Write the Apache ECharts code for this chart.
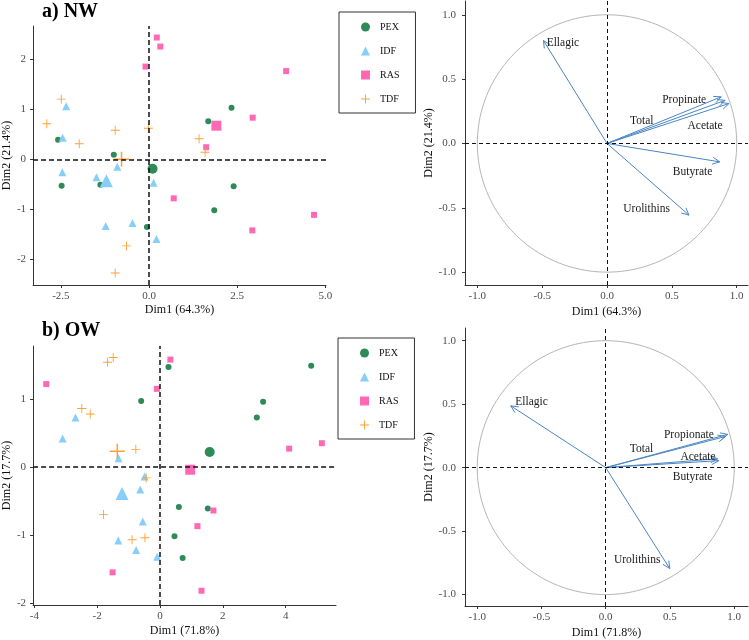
<!DOCTYPE html>
<html>
<head>
<meta charset="utf-8">
<script src="https://cdn.jsdelivr.net/npm/echarts@6/dist/echarts.min.js"></script>
<style>html,body{margin:0;padding:0;background:#fff;}#chart{width:749px;height:640px;}</style>
</head>
<body>
<div id="chart"></div>
<script>
// ---------- DATA ----------
const groups = ['PEX', 'IDF', 'RAS', 'TDF'];

// a) NW individuals (Dim1, Dim2)
const nwPEX = [[2.34,1.03],[1.68,0.76],[-2.58,0.39],[-1.0,0.09],[-1.38,-0.51],[-2.48,-0.53],[2.40,-0.54],[1.85,-1.02],[-0.06,-1.35]];
const nwIDF = [[-2.35,1.06],[-2.45,0.43],[-2.46,-0.26],[-1.49,-0.36],[-0.90,-0.15],[0.13,-0.47],[-1.23,-1.33],[-0.47,-1.27],[0.21,-1.59]];
const nwRAS = [[0.22,2.43],[0.32,2.25],[-0.10,1.85],[3.89,1.76],[2.94,0.83],[1.62,0.24],[0.70,-0.78],[4.68,-1.11],[2.93,-1.42]];
const nwTDF = [[-2.49,1.20],[-2.90,0.71],[-1.98,0.31],[-0.96,0.58],[-0.02,0.62],[1.42,0.41],[1.59,0.14],[-0.64,-1.73],[-0.96,-2.27]];
const nwCentroids = [[0.10,-0.19],[-1.21,-0.43],[1.91,0.67],[-0.78,0.0]]; // PEX, IDF, RAS, TDF

// b) OW individuals
const owPEX = [[0.27,1.47],[-0.60,0.97],[4.81,1.49],[3.28,0.96],[3.08,0.73],[0.60,-0.59],[1.52,-0.61],[0.46,-1.02],[0.72,-1.34]];
const owIDF = [[-2.69,0.73],[-3.10,0.42],[-1.32,0.13],[-0.49,-0.14],[-0.63,-0.33],[-0.55,-0.80],[-1.33,-1.08],[-0.76,-1.22],[-0.09,-1.32]];
const owRAS = [[-3.62,1.22],[0.33,1.58],[-0.10,1.15],[4.11,0.27],[5.15,0.35],[1.70,-0.64],[1.19,-0.87],[-1.51,-1.55],[1.32,-1.82]];
const owTDF = [[-1.67,1.54],[-1.49,1.61],[-2.49,0.86],[-2.22,0.78],[-0.77,0.26],[-0.44,-0.16],[-1.80,-0.70],[-0.48,-1.04],[-0.89,-1.07]];
const owCentroids = [[1.58,0.22],[-1.21,-0.39],[0.96,-0.04],[-1.36,0.23]];

// variable loadings (correlation circles)
const nwVars  = ['Ellagic','Propinate','Total','Acetate','Butyrate','Urolithins'];
const nwLoadX = [-0.49, 0.88, 0.91, 0.94, 0.869, 0.632];
const nwLoadY = [0.80, 0.362, 0.335, 0.31, -0.143, -0.557];
const nwLabelX = [-0.34, 0.595, 0.268, 0.756, 0.66, 0.305];
const nwLabelY = [0.777, 0.336, 0.173, 0.137, -0.22, -0.513];

const owVars  = ['Ellagic','Propionate','Total','Acetate','Butyrate','Urolithins'];
const owLoadX = [-0.739, 0.95, 0.93, 0.87, 0.88, 0.498];
const owLoadY = [0.487, 0.262, 0.245, 0.07, 0.055, -0.795];
const owLabelX = [-0.577, 0.647, 0.278, 0.718, 0.676, 0.245];
const owLabelY = [0.515, 0.258, 0.147, 0.087, -0.077, -0.729];

const nwXTicks = [-2.5, 0, 2.5, 5];
const nwYTicks = [-2, -1, 0, 1, 2];
const owXTicks = [-4, -2, 0, 2, 4];
const owYTicks = [-2, -1, 0, 1];
const circTicks = [-1, -0.5, 0, 0.5, 1];

// ---------- STYLE ----------
const FONT = '"Liberation Serif", "DejaVu Serif", serif';
const colors = {PEX:'#2E8B57', IDF:'#87CEFA', RAS:'#FF69B4', TDF:'#FFA033'};
const plusPath = 'path://M9,0H11V20H9ZM0,9H20V11H0Z';
const symbols = {PEX:'circle', IDF:'triangle', RAS:'rect', TDF:plusPath};
const smallSize = {PEX:6, IDF:8, RAS:6, TDF:9};
const bigSize = {PEX:10, IDF:13, RAS:10, TDF:15};
const arrowColor = '#4A86C4';

function mkAxis(gi, min, max, ticks, fmt, isX, nm, gap) {
  return {
    type: 'value', gridIndex: gi, min: min, max: max,
    name: nm, nameLocation: 'middle', nameGap: gap,
    nameTextStyle: {fontFamily: FONT, fontSize: 12, color: '#111'},
    axisLine: {show: true, onZero: false, lineStyle: {color: '#333', width: 1}},
    axisTick: {show: true, length: 3, customValues: ticks, lineStyle: {color: '#333'}},
    axisLabel: {customValues: ticks, formatter: fmt, fontFamily: FONT, fontSize: 11, color: '#4D4D4D', margin: isX ? 6 : 7},
    splitLine: {show: false}
  };
}
const f1 = v => Number(v).toFixed(1);
const f0 = v => String(Math.round(v));

const grids = [
  {left: 29, top: 26, width: 297, height: 259},
  {left: 30, top: 346, width: 306, height: 259},
  {left: 465, top: 1, width: 283, height: 284},
  {left: 465, top: 328, width: 283, height: 278}
];

const xAxes = [
  mkAxis(0, -3.29, 5.02, nwXTicks, f1, true, 'Dim1 (64.3%)', 19),
  mkAxis(1, -4.04, 5.6, owXTicks, f0, true, 'Dim1 (71.8%)', 20),
  mkAxis(2, -1.095, 1.087, circTicks, f1, true, 'Dim1 (64.3%)', 21),
  mkAxis(3, -1.095, 1.107, circTicks, f1, true, 'Dim1 (71.8%)', 21)
];
const yAxes = [
  mkAxis(0, -2.51, 2.66, nwYTicks, f0, false, 'Dim2 (21.4%)', 16),
  mkAxis(1, -2.03, 1.78, owYTicks, f0, false, 'Dim2 (17.7%)', 16),
  mkAxis(2, -1.10, 1.107, circTicks, f1, false, 'Dim2 (21.4%)', 22),
  mkAxis(3, -1.09, 1.10, circTicks, f1, false, 'Dim2 (17.7%)', 22)
];
xAxes[2].axisLabel.margin = 6; xAxes[3].axisLabel.margin = 6;
yAxes[2].axisLabel.margin = 9; yAxes[3].axisLabel.margin = 9;

function zeroLines(width, dash) {
  return {
    silent: true, symbol: ['none', 'none'], label: {show: false},
    lineStyle: {color: '#111', width: width, type: dash},
    emphasis: {disabled: true},
    data: [{xAxis: 0}, {yAxis: 0}]
  };
}

const series = [];
function addIndividuals(gi, sets, centroids) {
  groups.forEach((g, k) => {
    series.push({
      name: g, type: 'scatter', xAxisIndex: gi, yAxisIndex: gi,
      symbol: symbols[g], symbolSize: smallSize[g],
      itemStyle: {color: colors[g], opacity: 1},
      data: sets[k], z: 3
    });
    series.push({
      name: g, type: 'scatter', xAxisIndex: gi, yAxisIndex: gi,
      symbol: symbols[g], symbolSize: bigSize[g],
      itemStyle: {color: colors[g], opacity: 1},
      data: [centroids[k]], z: 3
    });
  });
  series[series.length - 1].markLine = zeroLines(1.5, [5, 3]);
}
addIndividuals(0, [nwPEX, nwIDF, nwRAS, nwTDF], nwCentroids);
addIndividuals(1, [owPEX, owIDF, owRAS, owTDF], owCentroids);

function addCircle(gi, vars, lx, ly, tx, ty) {
  // unit circle reference
  series.push({
    type: 'custom', xAxisIndex: gi, yAxisIndex: gi, silent: true, clip: false,
    data: [[0, 0]],
    renderItem: function (params, api) {
      const pts = [];
      for (let i = 0; i <= 180; i++) {
        const t = i / 180 * Math.PI * 2;
        pts.push(api.coord([Math.cos(t), Math.sin(t)]));
      }
      return {type: 'polyline', shape: {points: pts}, style: {stroke: '#B5B5B5', fill: null, lineWidth: 1}};
    },
    markLine: zeroLines(1, [4, 3]), z: 2
  });
  // arrows
  series.push({
    type: 'custom', xAxisIndex: gi, yAxisIndex: gi, silent: true, clip: false,
    data: lx.map((v, i) => [v, ly[i]]),
    renderItem: function (params, api) {
      const o = api.coord([0, 0]);
      const e = api.coord([api.value(0), api.value(1)]);
      const ang = Math.atan2(e[1] - o[1], e[0] - o[0]);
      const L = 8, a = Math.PI / 7;
      const h1 = [e[0] - L * Math.cos(ang - a), e[1] - L * Math.sin(ang - a)];
      const h2 = [e[0] - L * Math.cos(ang + a), e[1] - L * Math.sin(ang + a)];
      return {type: 'group', children: [
        {type: 'line', shape: {x1: o[0], y1: o[1], x2: e[0], y2: e[1]}, style: {stroke: arrowColor, lineWidth: 1}},
        {type: 'polyline', shape: {points: [h1, e, h2]}, style: {stroke: arrowColor, fill: null, lineWidth: 1}}
      ]};
    }, z: 3
  });
  // labels
  series.push({
    type: 'custom', xAxisIndex: gi, yAxisIndex: gi, silent: true, clip: false,
    data: tx.map((v, i) => [v, ty[i]]),
    renderItem: function (params, api) {
      const p = api.coord([api.value(0), api.value(1)]);
      return {type: 'text', x: p[0], y: p[1], style: {
        text: vars[params.dataIndex], fill: '#1a1a1a', font: '11.5px ' + FONT,
        align: 'center', verticalAlign: 'middle'
      }};
    }, z: 4
  });
}
addCircle(2, nwVars, nwLoadX, nwLoadY, nwLabelX, nwLabelY);
addCircle(3, owVars, owLoadX, owLoadY, owLabelX, owLabelY);

const legendData = groups.map(g => ({name: g, icon: symbols[g]}));
function mkLegend(left, top) {
  return {
    left: left, top: top, orient: 'vertical', data: legendData,
    itemWidth: 9, itemHeight: 9, itemGap: 14,
    padding: [10, 16, 9, 22],
    borderColor: '#333', borderWidth: 1, backgroundColor: '#fff',
    selectedMode: false,
    textStyle: {fontFamily: FONT, fontSize: 10, color: '#111', padding: [0, 0, 0, 5]}
  };
}

const option = {
  animation: false,
  backgroundColor: '#fff',
  title: [
    {text: 'a) NW', left: 42, top: 2, padding: 0, textStyle: {fontFamily: FONT, fontWeight: 'bold', fontSize: 20, color: '#000'}},
    {text: 'b) OW', left: 42, top: 321, padding: 0, textStyle: {fontFamily: FONT, fontWeight: 'bold', fontSize: 20, color: '#000'}}
  ],
  legend: [mkLegend(339, 12), mkLegend(338, 338)],
  grid: grids,
  xAxis: xAxes,
  yAxis: yAxes,
  series: series
};

const chart = echarts.init(document.getElementById('chart'), null, {renderer: 'canvas'});
chart.setOption(option);
</script>
</body>
</html>
